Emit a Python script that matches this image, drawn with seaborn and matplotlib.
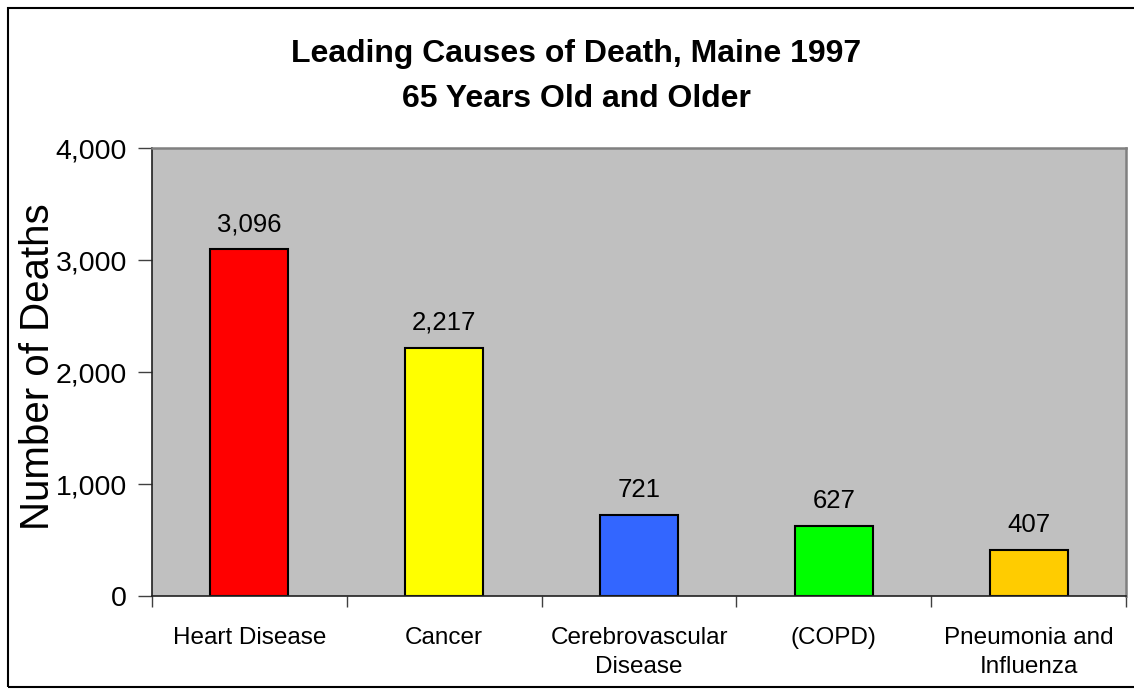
import matplotlib
matplotlib.use("Agg")
import matplotlib.pyplot as plt
import seaborn as sns
import pandas as pd
from matplotlib.patches import Rectangle
from matplotlib.ticker import FuncFormatter

categories = ["Heart Disease", "Cancer", "Cerebrovascular\nDisease", "(COPD)", "Pneumonia and\nInfluenza"]
deaths = [3096, 2217, 721, 627, 407]
colors = ["#FF0000", "#FFFF00", "#3366FF", "#00FF00", "#FFCC00"]
title_lines = ["Leading Causes of Death, Maine 1997", "65 Years Old and Older"]
y_ticks = [0, 1000, 2000, 3000, 4000]

sns.set_style("white")
plt.rcParams["font.family"] = ["Liberation Sans", "DejaVu Sans"]
plt.rcParams["text.color"] = "black"
plt.rcParams["xtick.labelcolor"] = "black"
plt.rcParams["ytick.labelcolor"] = "black"

df = pd.DataFrame({"cause": categories, "deaths": deaths})

fig = plt.figure(figsize=(11.34, 6.89), dpi=100)
ax = fig.add_axes([152/1134, 1-596/689, (1126-152)/1134, (596-148)/689])
ax.set_facecolor("#C0C0C0")

sns.barplot(data=df, x="cause", y="deaths", hue="cause", palette=colors,
            width=0.4, edgecolor="black", linewidth=1.5, legend=False, ax=ax,
            saturation=1)

ax.set_ylim(0, 4000)
ax.set_xlim(-0.5, len(categories) - 0.5)
ax.set_yticks(y_ticks)
ax.yaxis.set_major_formatter(FuncFormatter(lambda v, p: f"{int(v):,}"))
ax.tick_params(axis="y", direction="out", length=10, width=1, color="#404040",
               pad=8, labelsize=20.5, left=True, labelcolor="black")

# category boundary ticks (major) and labels at centers (minor)
ax.set_xticks([i - 0.5 for i in range(len(categories) + 1)])
ax.set_xticklabels([])
ax.set_xticks(range(len(categories)), minor=True)
ax.set_xticklabels(categories, minor=True, fontsize=17.5, linespacing=1.45)
ax.tick_params(axis="x", which="major", direction="out", length=8, width=1,
               color="#404040", bottom=True)
ax.tick_params(axis="x", which="minor", length=0, pad=22, labelcolor="black")

for side in ["left", "bottom"]:
    ax.spines[side].set_color("#202020")
    ax.spines[side].set_linewidth(1.2)
for side in ["top", "right"]:
    ax.spines[side].set_color("#808080")
    ax.spines[side].set_linewidth(1.8)

ax.set_xlabel("")
ax.set_ylabel("")

for i, v in enumerate(deaths):
    ax.annotate(f"{v:,}", xy=(i, v), xytext=(0, 13), textcoords="offset points",
                ha="center", va="baseline", fontsize=18.5, color="black")

fig.text(38/1134, 1-367/689, "Number of Deaths", rotation=90, ha="center",
         va="center", fontsize=29, color="black")

fig.text(576/1134, 1-62/689, title_lines[0], ha="center", va="baseline",
         fontsize=23, fontweight="bold", color="black")
fig.text(576/1134, 1-107/689, title_lines[1], ha="center", va="baseline",
         fontsize=23, fontweight="bold", color="black")

fig.patches.append(Rectangle((8/1134, 1-687/689), 1.2, (687-8)/689,
                             transform=fig.transFigure, fill=False,
                             edgecolor="black", linewidth=1.5, zorder=0))

fig.savefig("out.png", dpi=100)
